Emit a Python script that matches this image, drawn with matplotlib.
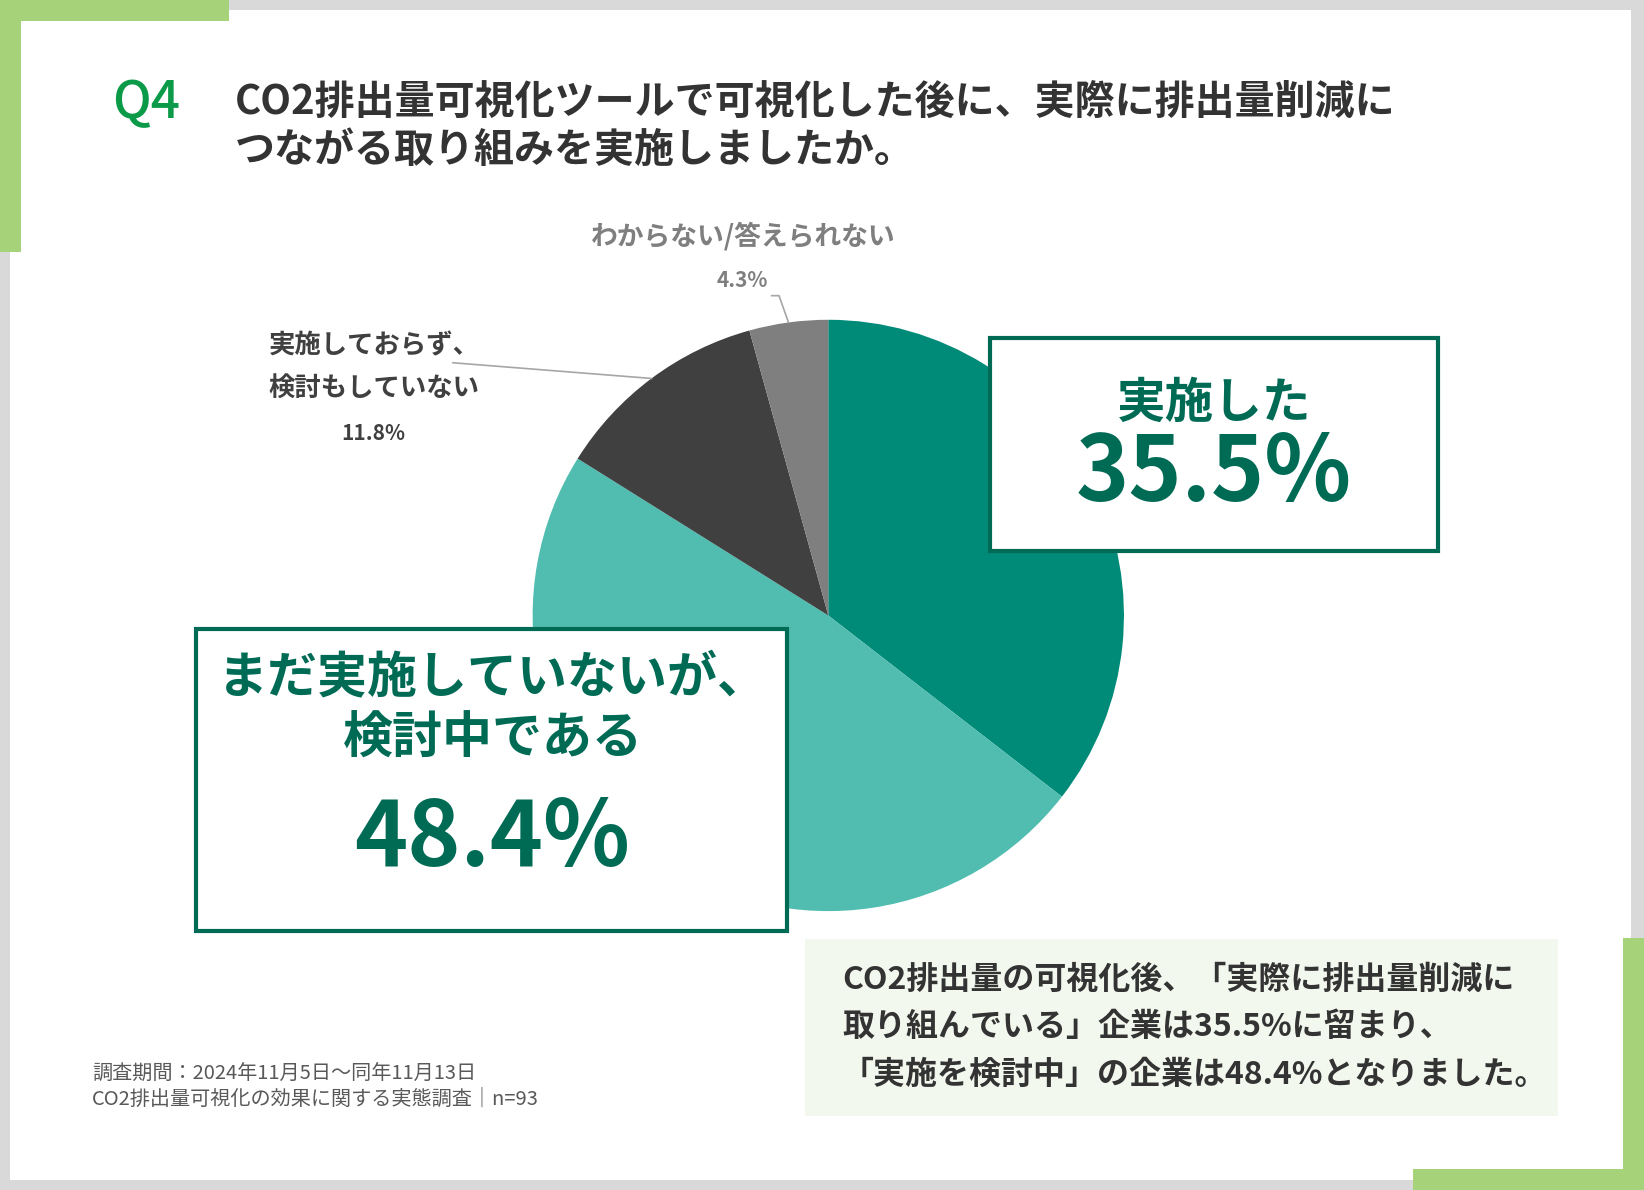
import matplotlib
matplotlib.use('Agg')
import matplotlib.pyplot as plt
import matplotlib.patches as mpatches
import numpy as np

plt.rcParams['font.family'] = ['Noto Sans CJK JP', 'DejaVu Sans']

# data
labels = ['実施した', 'まだ実施していないが、\n検討中である', '実施しておらず、\n検討もしていない', 'わからない/答えられない']
values = [35.5, 48.4, 11.8, 4.3]
colors = ['#008a78', '#50bdb0', '#404040', '#7f7f7f']

title = 'CO2排出量可視化ツールで可視化した後に、実際に排出量削減に\nつながる取り組みを実施しましたか。'
summary = ['CO2排出量の可視化後、「実際に排出量削減に',
           '取り組んでいる」企業は35.5%に留まり、',
           '「実施を検討中」の企業は48.4%となりました。']
notes = ['調査期間：2024年11月5日～同年11月13日',
         'CO2排出量可視化の効果に関する実態調査｜n=93']

W, H = 1568, 1135
green = '#a6d27a'
dark = '#006b55'

fig = plt.figure(figsize=(16.44, 11.90), dpi=100)
fig.patch.set_facecolor('#d9d9d9')
ax = fig.add_axes([0, 0, 1, 1])

# frame and corner accents
ax.add_patch(mpatches.Rectangle((10, 10), 1546, 1115, fc='white', ec='none', zorder=0))
ax.add_patch(mpatches.Rectangle((0, 0), 218, 20, fc=green, ec='none', zorder=1))
ax.add_patch(mpatches.Rectangle((0, 0), 20, 240, fc=green, ec='none', zorder=1))
ax.add_patch(mpatches.Rectangle((1348, 1115), 220, 20, fc=green, ec='none', zorder=1))
ax.add_patch(mpatches.Rectangle((1548, 895), 20, 240, fc=green, ec='none', zorder=1))

# pie (y axis is inverted, so start at -90 = top, counterclock gives clockwise on screen)
cx, cy, r = 790, 587, 282
wedges, _ = ax.pie(values, colors=colors, startangle=-90, counterclock=True,
                   center=(cx, cy), radius=r, frame=True,
                   wedgeprops=dict(linewidth=0, zorder=2))

ax.set_xlim(0, W)
ax.set_ylim(H, 0)
ax.set_aspect('equal')
ax.axis('off')


def edge_point(w):
    mid = np.radians((w.theta1 + w.theta2) / 2)
    return cx + r * np.cos(mid), cy + r * np.sin(mid)


# title
ax.text(107, 98, 'Q4', color='#0a9a48', fontsize=37, fontweight='medium', va='center', ha='left')
ax.text(224, 121, title, color='#333333', fontsize=28.8, fontweight='bold', va='center', ha='left',
        linespacing=1.22)

# box: 実施した
ax.add_patch(mpatches.Rectangle((944, 322), 428, 204, fc='white', ec=dark, lw=3, zorder=3))
ax.text(1158, 385, labels[0], color=dark, fontsize=35, fontweight='bold', ha='center', va='center', zorder=4)
ax.text(1158, 452, f'{values[0]}%', color=dark, fontsize=65, fontweight='bold', ha='center', va='center', zorder=4)

# box: まだ実施していないが、検討中である
ax.add_patch(mpatches.Rectangle((187, 600), 564, 288, fc='white', ec=dark, lw=3, zorder=3))
ax.text(470, 676, labels[1], color=dark, fontsize=36, fontweight='bold', ha='center', va='center',
        linespacing=1.25, zorder=4)
ax.text(469, 800, f'{values[1]}%', color=dark, fontsize=65, fontweight='bold', ha='center', va='center', zorder=4)

# label: 実施しておらず
ax.text(256, 350, labels[2], color='#404040', fontsize=19, fontweight='bold', ha='left', va='center',
        linespacing=1.75)
ax.text(356, 413, f'{values[2]}%', color='#404040', fontsize=15, fontweight='bold', ha='center', va='center')
ex, ey = edge_point(wedges[2])
ax.plot([432, ex], [346, ey], color='#a6a6a6', lw=1.2, zorder=3)

# label: わからない
ax.text(709, 225, labels[3], color='#7f7f7f', fontsize=19.3, fontweight='bold', ha='center', va='center')
ax.text(708, 268, f'{values[3]}%', color='#7f7f7f', fontsize=15, fontweight='bold', ha='center', va='center')
ex, ey = edge_point(wedges[3])
ax.plot([736, 743, ex], [282, 282, ey], color='#a6a6a6', lw=1.2, zorder=3)

# summary box
ax.add_patch(mpatches.Rectangle((768, 896), 718, 168, fc='#f3f8ee', ec='none', zorder=1))
for i, line in enumerate(summary):
    ax.text(803, 935 + i * 45, line, color='#333333', fontsize=23, fontweight='bold', ha='left', va='center')

# footnote
for i, line in enumerate(notes):
    ax.text(88, 1025 + i * 24, line, color='#595959', fontsize=14.5, ha='left', va='center')

fig.savefig('out.png', dpi=100, facecolor=fig.get_facecolor())
